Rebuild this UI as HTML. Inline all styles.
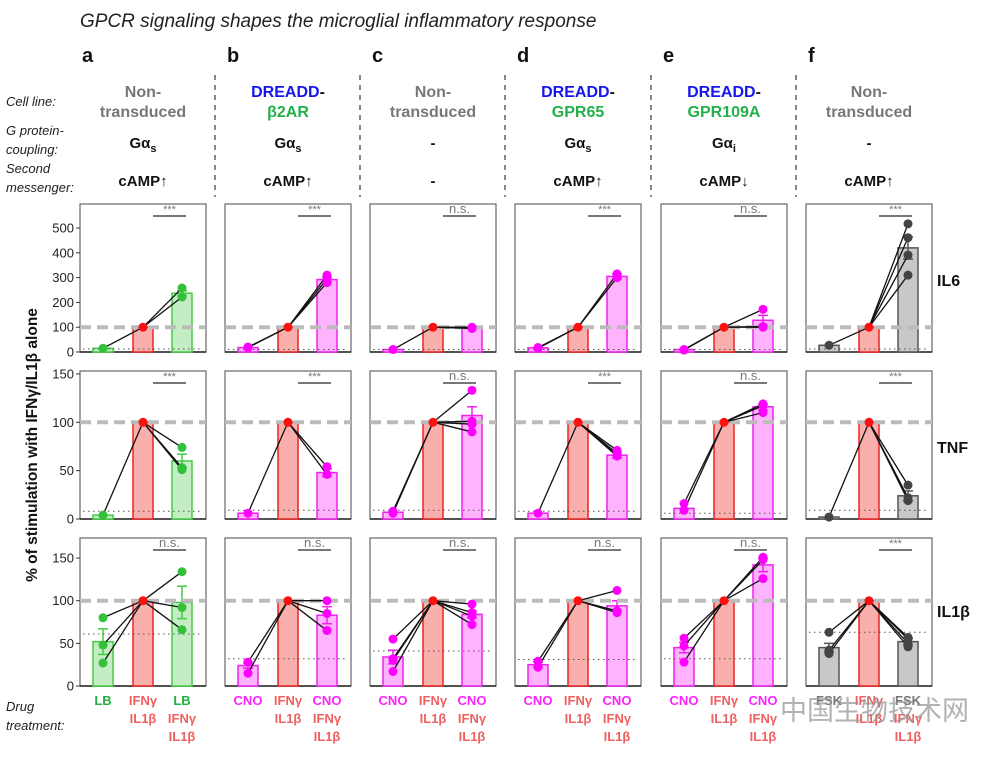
<!DOCTYPE html>
<html><head><meta charset="utf-8">
<style>
body{margin:0;background:#fff;width:981px;height:753px;overflow:hidden;font-family:"Liberation Sans",Arial,sans-serif}
svg text{font-family:"Liberation Sans","Noto Sans CJK SC",sans-serif}
</style></head>
<body>
<svg id="fig" width="981" height="753" viewBox="0 0 981 753" xmlns="http://www.w3.org/2000/svg">
<text x="80" y="27" font-size="19" font-style="italic" fill="#222">GPCR signaling shapes the microglial inflammatory response</text>
<g font-size="13" font-style="italic" fill="#222">
<text x="6" y="106">Cell line:</text>
<text x="6" y="135">G protein-</text>
<text x="6" y="154">coupling:</text>
<text x="6" y="173">Second</text>
<text x="6" y="192">messenger:</text>
<text x="6" y="711">Drug</text>
<text x="6" y="730">treatment:</text>
</g>
<text transform="translate(37,445) rotate(-90)" text-anchor="middle" font-size="15.5" font-weight="bold" fill="#111">% of stimulation with IFNγ/IL1β alone</text>
<g font-size="16" font-weight="bold" fill="#111">
<text x="937" y="286">IL6</text>
<text x="937" y="453">TNF</text>
<text x="937" y="617">IL1β</text>
</g>
<g id="panels"></g>
<text x="780" y="720" font-size="27" fill="#999" opacity="0.75">中国生物技术网</text>
</svg>
<script>
const panelLetters=['a','b','c','d','e','f'];
const cellLine1=['Non-','DREADD','Non-','DREADD','DREADD','Non-'];
const cellLine2=['transduced','β2AR','transduced','GPR65','GPR109A','transduced'];
const gprotein=['s','s','-','s','i','-'];
const messenger=['cAMP↑','cAMP↑','-','cAMP↑','cAMP↓','cAMP↑'];
const drugLabel=['LB','CNO','CNO','CNO','CNO','FSK'];
const rowMax=[597,153,173.5];
const rowTicks=[[0,100,200,300,400,500],[0,50,100,150],[0,50,100,150]];
// bar means: [drug alone, combo] per row per panel
const il6Means=[[15,237],[18,292],[10,97],[17,305],[10,128],[27,420]];
const il6Pts1=[[15],[20,18],[10],[18,15],[10,8],[27]];
const il6Pts3=[[258,222],[310,295,280],[100,97,95],[315,300],[172,103,100],[517,461,391,310]];
const il6Err=[[0,10],[0,10],[0,3],[0,10],[0,20],[0,45]];
const il6Dot=[12,10,10,10,10,12];
const il6Sig=['***','***','n.s.','***','n.s.','***'];
const tnfMeans=[[4,60],[6,48],[7,107],[6,66],[11,116],[2,24]];
const tnfPts1=[[4],[6],[8,6],[6],[16,9],[2]];
const tnfPts3=[[74,53,51],[54,46],[133,101,98,90],[71,68,66,65],[119,117,110],[35,22,19]];
const tnfErr=[[0,7],[0,4],[0,9],[0,3],[0,3],[0,5]];
const tnfDot=[8,9,9,8,6,9];
const tnfSig=['***','***','n.s.','***','n.s.','***'];
const il1Means=[[52,98],[24,83],[34,84],[25,94],[45,142],[45,52]];
const il1Pts1=[[80,48,27],[28,15],[55,32,30,17],[29,22],[56,47,28],[63,42,38]];
const il1Pts3=[[134,92,66],[100,85,65],[96,86,82,72],[112,88,86],[151,148,126],[57,55,50,46]];
const il1Err=[[15,19],[3,10],[8,4],[3,6],[6,8],[5,4]];
const il1Dot=[61,32,41,31,32,63];
const il1Sig=['n.s.','n.s.','n.s.','n.s.','n.s.','***'];

const means=[il6Means,tnfMeans,il1Means],pts1=[il6Pts1,tnfPts1,il1Pts1],pts3=[il6Pts3,tnfPts3,il1Pts3],
errs=[il6Err,tnfErr,il1Err],dots=[il6Dot,tnfDot,il1Dot],sigs=[il6Sig,tnfSig,il1Sig];
const PX=[80,225,370,515,661,806],PW=126,RT=[204,371,538],RB=[352,519,686];
const groupCol=['green','mag','mag','mag','mag','gray'];
const COLS={green:{pt:'#33c03a',fill:'#c4edc4',st:'#44cc44',lab:'#22b040'},mag:{pt:'#ff00ff',fill:'#ffb3ff',st:'#ee22ee',lab:'#ff22ff'},gray:{pt:'#444',fill:'#c8c8c8',st:'#555',lab:'#777'}};
const NS='http://www.w3.org/2000/svg';
const root=document.getElementById('panels');
function mk(tag,attrs,parent,txt){const e=document.createElementNS(NS,tag);for(const k in attrs)e.setAttribute(k,attrs[k]);if(txt!==undefined)e.textContent=txt;(parent||root).appendChild(e);return e;}
function yScale(r,v){return RB[r]-(v/rowMax[r])*(RB[r]-RT[r]);}
const BX=[23,63,102],BW=20;

// headers
for(let p=0;p<6;p++){
  const cx=PX[p]+PW/2;
  const l=mk('text',{x:PX[p]+2,y:62,'font-size':20,'font-weight':'bold',fill:'#111'},root,panelLetters[p]);
  
  
  const dreadd=cellLine1[p]==='DREADD';
  const c1=mk('text',{x:cx,y:97,'text-anchor':'middle','font-size':16,'font-weight':'bold',fill:dreadd?'#1515f0':'#777'},root);
  
  
  if(dreadd){mk('tspan',{},c1,'DREADD');mk('tspan',{fill:'#111'},c1,'-');}else c1.textContent=cellLine1[p];
  const c2=mk('text',{x:cx,y:117,'text-anchor':'middle','font-size':16,'font-weight':'bold',fill:dreadd?'#22b04a':'#777'},root,cellLine2[p]);
  
  
  const g=mk('text',{x:cx,y:148,'text-anchor':'middle','font-size':15,'font-weight':'bold',fill:'#111'},root);
  
  
  if(gprotein[p]==='-')g.textContent='-';else{mk('tspan',{},g,'Gα');mk('tspan',{'font-size':11,dy:4},g,gprotein[p]);}
  const m=mk('text',{x:cx,y:186,'text-anchor':'middle','font-size':15,'font-weight':'bold',fill:'#111'},root,messenger[p]);
  
  
  if(p>0){const sx=PX[p]-10;const s=mk('line',{x1:sx,y1:75,x2:sx,y2:197,stroke:'#888','stroke-width':2,'stroke-dasharray':'5,5'});
    
    }
  // x labels
  const cc=COLS[groupCol[p]];
  const labs=[[drugLabel[p]],['IFNγ','IL1β'],[drugLabel[p],'IFNγ','IL1β']];
  for(let b=0;b<3;b++){
    const t=mk('text',{x:PX[p]+BX[b],y:705,'text-anchor':'middle','font-size':13,'font-weight':'bold'},root);
    
    
    labs[b].forEach((s,i)=>{mk('tspan',{x:PX[p]+BX[b],dy:i?18:0,fill:(i===0&&b!==1)?cc.lab:'#f06060'},t,s);});
  }
}
// panels
for(let r=0;r<3;r++)for(let p=0;p<6;p++){
  const g=mk('g',{});
  
  
  const x0=PX[p],cc=COLS[groupCol[p]];
  mk('rect',{x:x0,y:RT[r],width:PW,height:RB[r]-RT[r],fill:'none',stroke:'#666','stroke-width':1.2},g);
  mk('line',{x1:x0,x2:x0+PW,y1:RB[r],y2:RB[r],stroke:'#222','stroke-width':1.5},g);
  const vals=[means[r][p][0],100,means[r][p][1]];
  const fills=[cc.fill,'#f9b0ad',cc.fill],strokes=[cc.st,'#ee2222',cc.st];
  for(let b=0;b<3;b++){
    const y=yScale(r,vals[b]);
    const bar=mk('rect',{x:x0+BX[b]-BW/2,y:y,width:BW,height:RB[r]-y,fill:fills[b],stroke:strokes[b],'stroke-width':1.5},g);
    
    
  }
  // error bars
  [0,2].forEach((b,i)=>{const e=errs[r][p][i];if(!e)return;const xc=x0+BX[b];
    mk('line',{x1:xc,x2:xc,y1:yScale(r,vals[b]-e),y2:yScale(r,vals[b]+e),stroke:cc.st,'stroke-width':1.5},g);
    mk('line',{x1:xc-5,x2:xc+5,y1:yScale(r,vals[b]+e),y2:yScale(r,vals[b]+e),stroke:cc.st,'stroke-width':1.5},g);
    mk('line',{x1:xc-5,x2:xc+5,y1:yScale(r,vals[b]-e),y2:yScale(r,vals[b]-e),stroke:cc.st,'stroke-width':1.5},g);});
  mk('line',{x1:x0,x2:x0+PW,y1:yScale(r,100),y2:yScale(r,100),stroke:'#bbb','stroke-width':4,'stroke-dasharray':'11,6'},g);
  mk('line',{x1:x0+3,x2:x0+PW-3,y1:yScale(r,dots[r][p]),y2:yScale(r,dots[r][p]),stroke:'#555','stroke-width':1,'stroke-dasharray':'1.5,3.5'},g);
  const mx=x0+BX[1],my=yScale(r,100);
  pts1[r][p].forEach(v=>mk('line',{x1:x0+BX[0],y1:yScale(r,v),x2:mx,y2:my,stroke:'#111','stroke-width':1.3},g));
  pts3[r][p].forEach(v=>mk('line',{x1:x0+BX[2],y1:yScale(r,v),x2:mx,y2:my,stroke:'#111','stroke-width':1.3},g));
  pts1[r][p].forEach(v=>{const c=mk('circle',{cx:x0+BX[0],cy:yScale(r,v),r:4.5,fill:cc.pt},g);
    
    });
  pts3[r][p].forEach(v=>{const c=mk('circle',{cx:x0+BX[2],cy:yScale(r,v),r:4.5,fill:cc.pt},g);
    
    });
  mk('circle',{cx:mx,cy:my,r:4.5,fill:'#ff1010'},g);
  // significance
  const sy=RT[r]+12;
  mk('line',{x1:x0+73,x2:x0+106,y1:sy,y2:sy,stroke:'#777','stroke-width':2},g);
  const st=mk('text',{x:x0+89.5,y:sy-3,'text-anchor':'middle','font-size':sigs[r][p]==='***'?11:13,fill:'#777'},g,sigs[r][p]);
  
  
  if(p===0){rowTicks[r].forEach(t=>{const y=yScale(r,t);
    mk('line',{x1:x0-4,x2:x0,y1:y,y2:y,stroke:'#333'},g);
    const tl=mk('text',{x:x0-6,y:y+4.5,'text-anchor':'end','font-size':13,fill:'#222'},g,String(t));
    
    });}
}
</script>
</body></html>
